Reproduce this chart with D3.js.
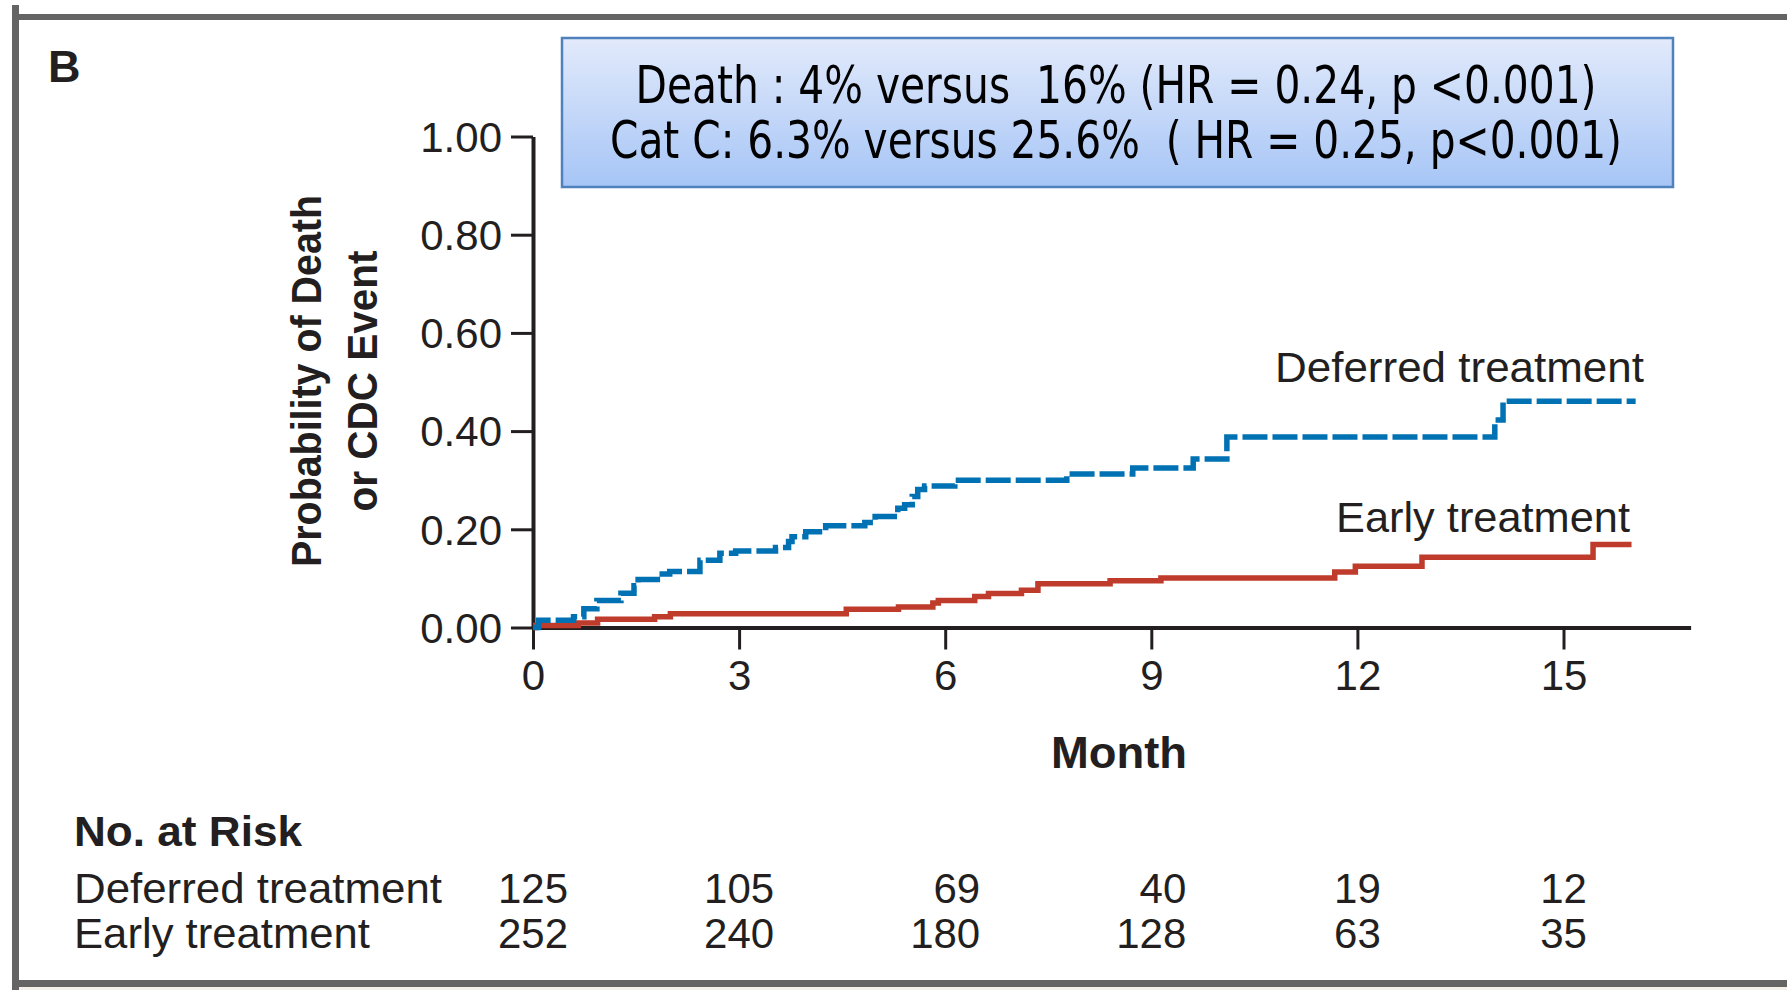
<!DOCTYPE html>
<html>
<head>
<meta charset="utf-8">
<script src="https://cdn.jsdelivr.net/npm/d3@7/dist/d3.min.js"></script>
<style>
  html, body { margin: 0; padding: 0; background: #ffffff; }
  svg { display: block; }
  text { white-space: pre; }
</style>
</head>
<body>
<svg id="chart" width="1787" height="990"></svg>
<script>
// ---------------- DATA ----------------
const panelLabel = "B";
const statLines = [
  "Death : 4% versus  16% (HR = 0.24, p <0.001)",
  "Cat C: 6.3% versus 25.6%  ( HR = 0.25, p<0.001)"
];
const yTitleLines = ["Probability of Death", "or CDC Event"];
const xTitle = "Month";
const yTicks = [0, 0.2, 0.4, 0.6, 0.8, 1.0];
const xTicks = [0, 3, 6, 9, 12, 15];
const seriesNames = ["Deferred treatment", "Early treatment"];

// Kaplan-Meier step points (month, cumulative probability)
const deferredTimes = [0, 0.08, 0.59, 0.74, 0.93, 1.28, 1.47, 1.53, 1.81, 1.99, 2.43, 2.72, 2.95, 3.53, 3.72, 3.77, 3.97, 4.26, 4.83, 4.98, 5.31, 5.41, 5.52, 5.60, 5.70, 6.14, 7.77, 8.73, 9.61, 10.10, 14.00, 14.12, 16.05];
const deferredRisk  = [0, 0.015, 0.022, 0.038, 0.055, 0.070, 0.085, 0.098, 0.109, 0.114, 0.137, 0.151, 0.156, 0.163, 0.175, 0.185, 0.195, 0.207, 0.214, 0.226, 0.243, 0.250, 0.267, 0.281, 0.288, 0.300, 0.3125, 0.325, 0.343, 0.388, 0.4225, 0.461, 0.461];
const earlyTimes = [0, 0.04, 0.66, 0.94, 1.77, 2.00, 4.56, 5.32, 5.82, 5.90, 6.43, 6.63, 7.11, 7.35, 8.40, 9.14, 11.67, 11.97, 12.94, 15.43, 15.99];
const earlyRisk  = [0, 0.004, 0.009, 0.017, 0.022, 0.028, 0.037, 0.042, 0.050, 0.055, 0.063, 0.069, 0.076, 0.089, 0.095, 0.101, 0.113, 0.125, 0.143, 0.169, 0.169];

// Number at risk table
const riskTitle = "No. at Risk";
const riskTimes = [0, 3, 6, 9, 12, 15];
const riskDeferred = [125, 105, 69, 40, 19, 12];
const riskEarly = [252, 240, 180, 128, 63, 35];

// ---------------- LAYOUT ----------------
const svg = d3.select("#chart");
const ink = "#231f20";
const blue = "#0072b4";
const red = "#bf3b2b";
const sans = "'Liberation Sans', Arial, sans-serif";
const narrow = "'Liberation Sans Narrow', 'DejaVu Sans Condensed', 'Liberation Sans', sans-serif";

const x = d3.scaleLinear().domain([0, 16.85]).range([533, 1690.6]);
const y = d3.scaleLinear().domain([0, 1]).range([627.5, 136.5]);

// frame
svg.append("rect").attr("x", 19).attr("y", 987).attr("width", 1768).attr("height", 3).attr("fill", "#f3f0ea");
svg.append("rect").attr("x", 12).attr("y", 14).attr("width", 1775).attr("height", 6).attr("fill", "#646464");
svg.append("rect").attr("x", 12).attr("y", 5).attr("width", 7).attr("height", 985).attr("fill", "#646464");
svg.append("rect").attr("x", 12).attr("y", 980).attr("width", 1775).attr("height", 7).attr("fill", "#646464");

// panel letter
svg.append("text").attr("x", 48).attr("y", 82).text(panelLabel)
  .attr("font-family", sans).attr("font-weight", "bold").attr("font-size", 45).attr("fill", ink);

// stats box
const defs = svg.append("defs");
const grad = defs.append("linearGradient").attr("id", "boxGrad").attr("x1", 0).attr("y1", 0).attr("x2", 0).attr("y2", 1);
grad.append("stop").attr("offset", "0%").attr("stop-color", "#e2eafb");
grad.append("stop").attr("offset", "100%").attr("stop-color", "#a6c5f6");
svg.append("rect").attr("x", 562).attr("y", 38).attr("width", 1111).attr("height", 149)
  .attr("fill", "url(#boxGrad)").attr("stroke", "#4f81bd").attr("stroke-width", 2.5);
const statLen = [961, 1012];
const statBase = [103, 158];
statLines.forEach((s, i) => {
  svg.append("text").attr("x", 1116).attr("y", statBase[i]).attr("text-anchor", "middle")
    .attr("font-family", narrow).attr("font-size", 52).attr("fill", "#000")
    .attr("textLength", statLen[i]).attr("lengthAdjust", "spacingAndGlyphs")
    .text(s);
});

// axes
const xAxis = svg.append("g").attr("transform", `translate(0,${y(0)})`)
  .call(d3.axisBottom(x).tickValues(xTicks).tickFormat(d3.format("d")).tickSize(22).tickSizeOuter(0).tickPadding(11));
const yAxis = svg.append("g").attr("transform", `translate(${x(0)},0)`)
  .call(d3.axisLeft(y).tickValues(yTicks).tickFormat(d3.format(".2f")).tickSize(22).tickSizeOuter(0).tickPadding(9));
[xAxis, yAxis].forEach(g => {
  g.select(".domain").attr("stroke", ink).attr("stroke-width", 4);
  g.selectAll(".tick line").attr("stroke", ink).attr("stroke-width", 3);
  g.selectAll(".tick text").attr("fill", ink).attr("font-family", sans).attr("font-size", 42);
});
yAxis.selectAll(".tick text").attr("dy", "0.35em");

// axis titles
svg.append("text").attr("x", 1119).attr("y", 768).attr("text-anchor", "middle")
  .attr("font-family", sans).attr("font-weight", "bold").attr("font-size", 44).attr("fill", ink)
  .attr("textLength", 136).attr("lengthAdjust", "spacingAndGlyphs").text(xTitle);
const yTitleX = [321, 377];
const yTitleLen = [372, 261];
yTitleLines.forEach((s, i) => {
  svg.append("text").attr("transform", `translate(${yTitleX[i]},381) rotate(-90)`)
    .attr("text-anchor", "middle").attr("font-family", sans).attr("font-weight", "bold")
    .attr("font-size", 43).attr("fill", ink)
    .attr("textLength", yTitleLen[i]).attr("lengthAdjust", "spacingAndGlyphs").text(s);
});

// curves
const line = d3.line().x(d => x(d[0])).y(d => y(d[1])).curve(d3.curveStepAfter);
const deferredPts = deferredTimes.map((t, i) => [t, deferredRisk[i]]);
const earlyPts = earlyTimes.map((t, i) => [t, earlyRisk[i]]);
svg.append("path").datum(earlyPts).attr("d", line)
  .attr("fill", "none").attr("stroke", red).attr("stroke-width", 5.5);
svg.append("path").datum(deferredPts).attr("d", line)
  .attr("fill", "none").attr("stroke", blue).attr("stroke-width", 5.5)
  .attr("stroke-dasharray", "25,5");

// curve labels
svg.append("text").attr("x", 1275).attr("y", 382).attr("font-family", sans).attr("font-size", 42)
  .attr("fill", ink).attr("textLength", 369).attr("lengthAdjust", "spacingAndGlyphs").text(seriesNames[0]);
svg.append("text").attr("x", 1336).attr("y", 532).attr("font-family", sans).attr("font-size", 42)
  .attr("fill", ink).attr("textLength", 294).attr("lengthAdjust", "spacingAndGlyphs").text(seriesNames[1]);

// number at risk table
svg.append("text").attr("x", 74).attr("y", 846).attr("font-family", sans).attr("font-weight", "bold")
  .attr("font-size", 42).attr("fill", ink).attr("textLength", 228).attr("lengthAdjust", "spacingAndGlyphs").text(riskTitle);
svg.append("text").attr("x", 74).attr("y", 903).attr("font-family", sans).attr("font-size", 42)
  .attr("fill", ink).attr("textLength", 368).attr("lengthAdjust", "spacingAndGlyphs").text(seriesNames[0]);
svg.append("text").attr("x", 74).attr("y", 948).attr("font-family", sans).attr("font-size", 42)
  .attr("fill", ink).attr("textLength", 296).attr("lengthAdjust", "spacingAndGlyphs").text(seriesNames[1]);

const earlyNums = svg.append("g").selectAll("text").data(riskTimes).join("text")
  .attr("x", d => x(d)).attr("y", 948).attr("text-anchor", "middle")
  .attr("font-family", sans).attr("font-size", 42).attr("fill", ink)
  .text((d, i) => riskEarly[i]);
const rightEdges = [];
earlyNums.each(function () { const b = this.getBBox(); rightEdges.push(b.x + b.width); });
svg.append("g").selectAll("text").data(riskTimes).join("text")
  .attr("x", (d, i) => rightEdges[i]).attr("y", 903).attr("text-anchor", "end")
  .attr("font-family", sans).attr("font-size", 42).attr("fill", ink)
  .text((d, i) => riskDeferred[i]);
</script>
</body>
</html>
